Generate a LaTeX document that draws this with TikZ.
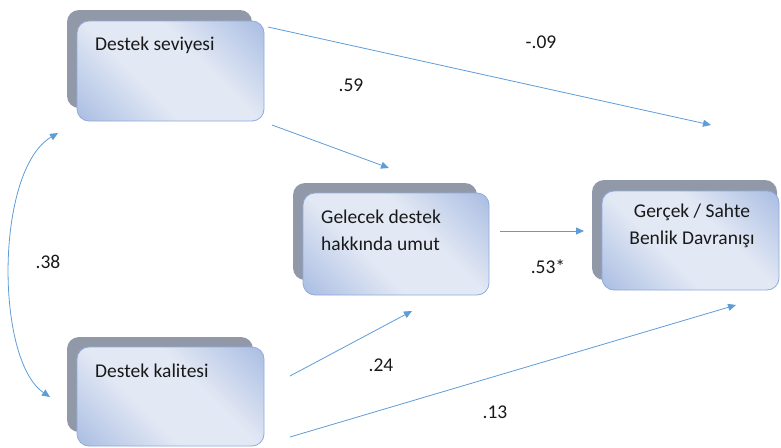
\documentclass[tikz,border=0pt]{standalone}
\usepackage{fontspec}
\setmainfont{Carlito}
\usetikzlibrary{arrows.meta}
\definecolor{dk}{HTML}{88A4D8}
\definecolor{lt}{HTML}{E2E8F4}
\definecolor{shadowc}{HTML}{9199A8}
\definecolor{edgec}{HTML}{8FAADC}
\definecolor{arrowc}{HTML}{5E9CD8}
\pgfdeclareverticalshading{band}{100bp}{color(0bp)=(dk); color(40bp)=(lt); color(60bp)=(lt); color(100bp)=(dk)}
\tikzset{
  shadowbox/.style={fill=shadowc, rounded corners=12pt},
  frontbox/.style={shading=band, shading angle=-45, draw=edgec, line width=0.8pt, rounded corners=12pt},
  lbl/.style={font=\fontsize{19.5}{27}\selectfont, text=black!90, inner sep=0pt},
  conn/.style={draw=arrowc, line width=0.8pt, -{Triangle[length=8pt,width=7pt]}},
}
\begin{document}
\begin{tikzpicture}[x=1pt,y=-1pt]
\useasboundingbox (0,0) rectangle (781,447);
% boxes
\path[shadowbox] (67,10) rectangle (252,108);
\path[frontbox] (77,21) rectangle (264,121);
\path[shadowbox] (67,337) rectangle (253,432);
\path[frontbox] (77,347) rectangle (264,446);
\path[shadowbox] (293,183) rectangle (477,280);
\path[frontbox] (303,193) rectangle (489,295);
\path[shadowbox] (592,180) rectangle (777,280);
\path[frontbox] (602,191) rectangle (779,290);
% texts
\node[lbl, anchor=west] (ds) at (95,45) {Destek seviyesi};
\node[lbl, anchor=west] (dk) at (95,371) {Destek kalitesi};
\node[lbl, anchor=west, align=left] (gd) at (321,230) {Gelecek destek\\hakkında umut};
\node[lbl, align=center] (gs) at (692,226) {Gerçek / Sahte\\Benlik Davranışı};
% connector endpoints
\coordinate (a1) at (268,27);  \coordinate (a2) at (711,125);
\coordinate (b1) at (272,125); \coordinate (b2) at (389,168);
\coordinate (c1) at (500,231); \coordinate (c2) at (584,231);
\coordinate (d1) at (290,376); \coordinate (d2) at (412,311);
\coordinate (e1) at (290,437); \coordinate (e2) at (736,305);
\coordinate (f1) at (58,133);  \coordinate (f2) at (50,397);
\draw[conn] (a1) -- (a2);
\draw[conn] (b1) -- (b2);
\draw[conn] (c1) -- (c2);
\draw[conn] (d1) -- (d2);
\draw[conn] (e1) -- (e2);
\draw[conn, {Triangle[length=8pt,width=7pt]}-{Triangle[length=8pt,width=7pt]}] (f1) .. controls (-5,170) and (-5,360) .. (f2);
% coefficient labels
\node[lbl] (l1) at (541,42) {-.09};
\node[lbl] (l2) at (351,85) {.59};
\node[lbl] (l3) at (548,267) {.53*};
\node[lbl] (l4) at (381,365) {.24};
\node[lbl] (l5) at (495,412) {.13};
\node[lbl] (l6) at (48,262) {.38};
\end{tikzpicture}
\end{document}
